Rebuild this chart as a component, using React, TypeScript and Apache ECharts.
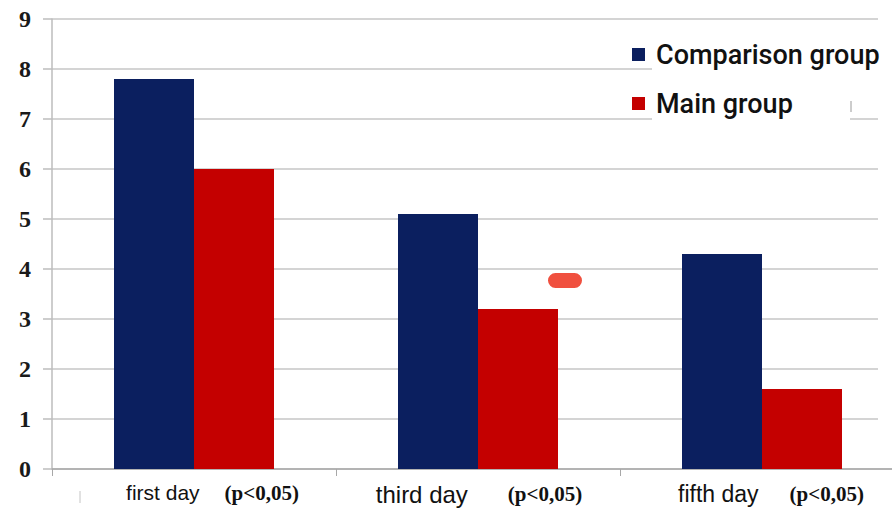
import React, { useEffect, useRef } from "react";
import * as echarts from "echarts";

const categories = ["first day", "third day", "fifth day"];
const pLabels = ["(p<0,05)", "(p<0,05)", "(p<0,05)"];
const seriesNames = ["Comparison group", "Main group"];
const comparisonValues = [7.8, 5.1, 4.3];
const mainValues = [6.0, 3.2, 1.6];
const yTicks = [0, 1, 2, 3, 4, 5, 6, 7, 8, 9];

const NAVY = "#0b1f5f";
const RED = "#c40000";

export default function App() {
  const ref = useRef<HTMLDivElement>(null);
  useEffect(() => {
    if (!ref.current) return;
    const chart = echarts.init(ref.current, undefined, { renderer: "svg" });
    const nameSizes = [21, 24, 23];
    const namePad = [[0, 0, 0, 37], [0, 0, 0, 2], [0, 0, 0, 18]];
    const pPad = [[0, 0, 0, 25], [0, 0, 0, 40], [0, 0, 0, 31]];
    const rich: any = {};
    categories.forEach((_, i) => {
      rich["n" + i] = {
        fontFamily: "Liberation Sans, Arial, sans-serif",
        fontSize: nameSizes[i],
        color: "#111",
        padding: namePad[i],
      };
      rich["p" + i] = {
        fontFamily: "Liberation Serif, Times New Roman, serif",
        fontWeight: "bold",
        fontSize: 21,
        color: "#111",
        padding: pPad[i],
      };
    });
    chart.setOption({
      animation: false,
      backgroundColor: "#ffffff",
      grid: { left: 52, top: 19, bottom: 44, right: 0, containLabel: false },
      legend: {
        data: seriesNames,
        orient: "vertical",
        left: 627,
        top: 36,
        padding: [5, 5, 5, 5],
        itemWidth: 13,
        itemHeight: 13,
        itemGap: 22,
        icon: "rect",
        textStyle: {
          fontFamily: "Roboto, Arial, sans-serif",
          fontSize: 27,
          fontWeight: 500,
          color: "#111",
          padding: [0, 0, 0, 6],
        },
        z: 10,
      },
      xAxis: {
        type: "category",
        data: categories,
        boundaryGap: true,
        axisLine: { show: true, lineStyle: { color: "#a8a8a8", width: 1.5 } },
        axisTick: { show: true, length: 7, lineStyle: { color: "#a8a8a8" } },
        axisLabel: {
          margin: 13,
          interval: 0,
          formatter: (v: string, i: number) => `{n${i}|${v}}{p${i}|${pLabels[i]}}`,
          rich,
        },
        splitLine: { show: false },
      },
      yAxis: {
        type: "value",
        min: yTicks[0],
        max: yTicks[yTicks.length - 1],
        interval: 1,
        axisLine: { show: true, lineStyle: { color: "#bdbdbd", width: 1.5 } },
        axisTick: { show: true, length: 9, lineStyle: { color: "#bdbdbd", width: 1.5 } },
        axisLabel: {
          margin: 21,
          fontFamily: "Liberation Serif, Times New Roman, serif",
          fontWeight: "bold",
          fontSize: 24,
          color: "#1a1a1a",
        },
        splitLine: { show: true, lineStyle: { color: "#c6c6c6", width: 1.5 } },
      },
      series: [
        {
          name: seriesNames[0],
          type: "bar",
          data: comparisonValues,
          barWidth: 80,
          barGap: "0%",
          itemStyle: { color: NAVY },
        },
        {
          name: seriesNames[1],
          type: "bar",
          data: mainValues,
          barWidth: 80,
          barGap: "0%",
          itemStyle: { color: RED },
        },
      ],
      graphic: [
        {
          type: "rect",
          z: 3,
          shape: { x: 878, y: 0, width: 30, height: 468 },
          style: { fill: "#ffffff" },
        },
        {
          type: "rect",
          z: 3,
          shape: { x: 652, y: 30, width: 198, height: 94 },
          style: { fill: "#ffffff" },
        },
        {
          type: "rect",
          z: 3,
          shape: { x: 850, y: 30, width: 30, height: 50 },
          style: { fill: "#ffffff" },
        },
        {
          type: "rect",
          z: 5,
          shape: { x: 548, y: 273, width: 34, height: 15, r: 7.5 },
          style: { fill: "#f0503f" },
        },
        {
          type: "line",
          z: 5,
          shape: { x1: 851, y1: 101, x2: 851, y2: 112 },
          style: { stroke: "#9a9a9a", lineWidth: 1 },
        },
        {
          type: "line",
          z: 5,
          shape: { x1: 80, y1: 491, x2: 80, y2: 503 },
          style: { stroke: "#c4c4c4", lineWidth: 1 },
        },
      ],
    });
    return () => chart.dispose();
  }, []);
  return (
    <div style={{ width: 892, height: 513, position: "absolute", left: 0, top: 0, overflow: "hidden" }}>
      <div ref={ref} style={{ width: 904, height: 513 }} />
    </div>
  );
}
